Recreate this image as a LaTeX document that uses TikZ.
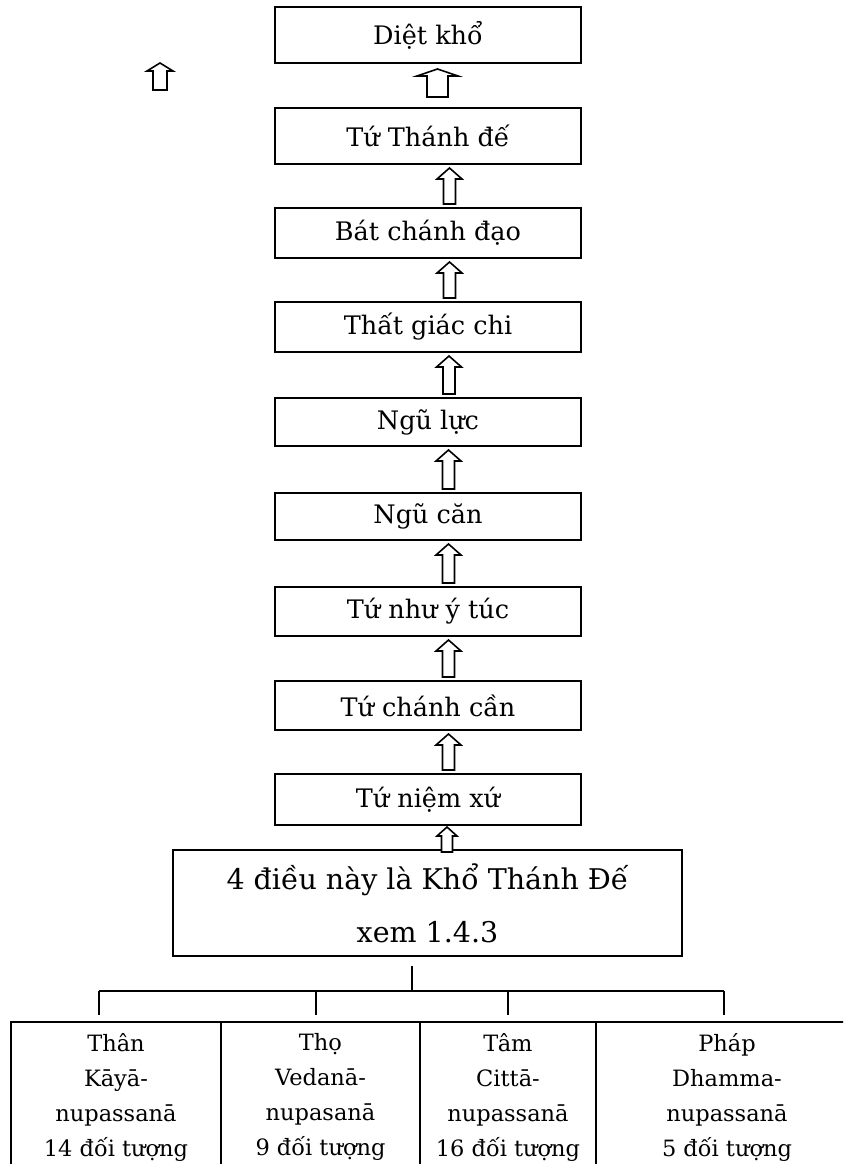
\documentclass[tikz,border=0pt]{standalone}
\usepackage{fontspec}
\setmainfont{DejaVu Serif}
\usetikzlibrary{calc}

% hollow upward block arrow: base point, tip point, shaft width, head width, head length
\newcommand\hollowup[5]{%
  \draw[harrow] let \p1=#1, \p2=#2 in
    (\x2-#3/2,\y1) -- (\x2-#3/2,\y2-#5) -- (\x2-#4/2,\y2-#5) -- (\x2,\y2)
    -- (\x2+#4/2,\y2-#5) -- (\x2+#3/2,\y2-#5) -- (\x2+#3/2,\y1) -- cycle;}

\tikzset{
  stage/.style={draw, line width=1.6pt, minimum width=306pt, minimum height=#1,
    inner sep=0pt, outer sep=0pt, font=\fontsize{25.5}{30}\selectfont},
  summary/.style={draw, line width=1.6pt, minimum width=509pt, minimum height=106pt,
    inner sep=0pt, outer sep=0pt, align=center, font=\fontsize{28.5}{53}\selectfont},
  field/.style={draw, line width=1.6pt, minimum width=#1, minimum height=150pt,
    anchor=north, inner sep=0pt, outer sep=0pt, align=center,
    font=\fontsize{22.5}{35}\selectfont},
  harrow/.style={draw, line width=1.6pt, fill=white, line join=miter},
  tree/.style={line width=1.6pt}
}

\begin{document}
\begin{tikzpicture}[x=1pt, y=-1pt]
\clip (0,0) rectangle (843,1164);

% chain of stages
\node[stage=56pt] (b1) at (428,35)    {Diệt khổ};
\node[stage=56pt] (b2) at (428,136)   {Tứ Thánh đế};
\node[stage=50pt] (b3) at (428,233)   {Bát chánh đạo};
\node[stage=50pt] (b4) at (428,327)   {Thất giác chi};
\node[stage=48pt] (b5) at (428,422)   {Ngũ lực};
\node[stage=47pt] (b6) at (428,516.5) {Ngũ căn};
\node[stage=49pt] (b7) at (428,611.5) {Tứ như ý túc};
\node[stage=49pt] (b8) at (428,705.5) {Tứ chánh cần};
\node[stage=51pt] (b9) at (428,799.5) {Tứ niệm xứ};

\node[summary] (big) at (427.5,903) {4 điều này là Khổ Thánh Đế\\xem 1.4.3};

% four foundations
\node[field=210pt] (c1) at (116,1022)   {Thân\\Kāyā-\\nupassanā\\14 đối tượng};
\node[field=199pt] (c2) at (320.5,1022) {Thọ\\Vedanā-\\nupasanā\\9 đối tượng};
\node[field=176pt] (c3) at (508,1022)   {Tâm\\Cittā-\\nupassanā\\16 đối tượng};
\node[field=262pt] (c4) at (727,1022)   {Pháp\\Dhamma-\\nupassanā\\5 đối tượng};

% arrows between stages
\hollowup{($(b2.north)+(9.5,-11)$)}{($(b1.south)+(9.5,6)$)}{21pt}{41pt}{7pt}
\hollowup{($(b3.north)+(21.5,-4)$)}{($(b2.south)+(21.5,4)$)}{12pt}{25pt}{11pt}
\hollowup{($(b4.north)+(21.5,-4)$)}{($(b3.south)+(21.5,4)$)}{12pt}{25pt}{11pt}
\hollowup{($(b5.north)+(21,-4)$)}{($(b4.south)+(21,4)$)}{12pt}{25pt}{11pt}
\hollowup{($(b6.north)+(20.5,-4)$)}{($(b5.south)+(20.5,4)$)}{12pt}{25pt}{11pt}
\hollowup{($(b7.north)+(20.5,-4)$)}{($(b6.south)+(20.5,4)$)}{12pt}{25pt}{11pt}
\hollowup{($(b8.north)+(20.5,-4)$)}{($(b7.south)+(20.5,4)$)}{12pt}{25pt}{11pt}
\hollowup{($(b9.north)+(20.5,-4)$)}{($(b8.south)+(20.5,4)$)}{12pt}{25pt}{11pt}
\hollowup{($(big.north)+(19,2)$)}{($(b9.south)+(19,2)$)}{11pt}{20pt}{9pt}

% lone arrow at the top left
\coordinate (lonebase) at (160,90);
\coordinate (lonetip)  at (160,63);
\hollowup{(lonebase)}{(lonetip)}{14pt}{26pt}{8pt}

% branching lines
\coordinate (stem) at ($(big.south)+(-15.5,10)$);
\coordinate (hub)  at (412,991);
\coordinate (d1) at ($(c1.north)+(-17,-7)$);
\coordinate (d2) at ($(c2.north)+(-4.5,-7)$);
\coordinate (d3) at ($(c3.north)+(0,-7)$);
\coordinate (d4) at ($(c4.north)+(-3,-7)$);
\draw[tree] (stem) -- (hub);
\draw[tree] (d1 |- hub) -- (d4 |- hub);
\foreach \d in {d1,d2,d3,d4} \draw[tree] (\d |- hub) -- (\d);
\end{tikzpicture}
\end{document}
